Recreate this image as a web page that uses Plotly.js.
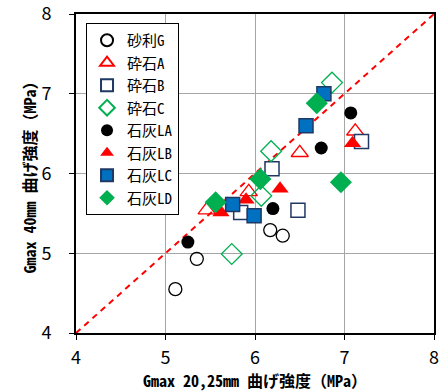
<!DOCTYPE html>
<html>
<head>
<meta charset="utf-8">
<script src="https://cdn.plot.ly/plotly-3.0.1.min.js"></script>
<style>
  html, body { margin: 0; padding: 0; background: #fff; }
  #chart { width: 440px; height: 392px; }
</style>
</head>
<body>
<div id="chart"></div>
<script>
// Flexural strength comparison: 20,25mm Gmax (x) vs 40mm Gmax (y), MPa
const seriesNames = ['砂利G', '砕石A', '砕石B', '砕石C', '石灰LA', '石灰LB', '石灰LC', '石灰LD'];

const gravelG_x = [5.11, 5.35, 6.17, 6.31];
const gravelG_y = [4.55, 4.93, 5.29, 5.22];

const crushedA_x = [5.46, 5.93, 6.50, 7.12];
const crushedA_y = [5.54, 5.77, 6.26, 6.53];

const crushedB_x = [5.84, 6.19, 6.48, 7.19];
const crushedB_y = [5.51, 6.06, 5.54, 6.40];

const crushedC_x = [5.74, 6.07, 6.18, 6.86];
const crushedC_y = [4.99, 5.72, 6.28, 7.14];

const limeLA_x = [5.25, 6.20, 6.74, 7.07];
const limeLA_y = [5.14, 5.56, 6.32, 6.76];

const limeLB_x = [5.62, 5.90, 6.28, 7.09];
const limeLB_y = [5.51, 5.67, 5.81, 6.38];

const limeLC_x = [5.75, 5.99, 6.57, 6.77];
const limeLC_y = [5.61, 5.47, 6.60, 7.00];

const limeLD_x = [5.56, 6.06, 6.69, 6.96];
const limeLD_y = [5.64, 5.93, 6.88, 5.89];

// 1:1 reference line
const equalLine = [4, 8];

const tickVals = [4, 5, 6, 7, 8];

const FONT = '"Noto Sans CJK JP", "DejaVu Sans", sans-serif';
const MONO = '"Noto Sans Mono CJK JP", "Noto Sans CJK JP", sans-serif';
const NARROW = '"Liberation Sans Narrow", "Noto Sans CJK JP", sans-serif';

function pts(name, xs, ys, marker) {
  return { type: 'scatter', mode: 'markers', name: name, x: xs, y: ys, marker: marker, cliponaxis: false };
}

const traces = [
  {
    type: 'scatter', mode: 'lines', x: equalLine, y: equalLine, showlegend: false,
    line: { color: '#FF0000', width: 2, dash: '6px,5px' }, hoverinfo: 'skip'
  },
  pts(seriesNames[0], gravelG_x, gravelG_y,
      { symbol: 'circle-open', size: 13, color: '#000000', line: { width: 1.3 } }),
  pts(seriesNames[1], crushedA_x, crushedA_y,
      { symbol: 'triangle-up-open', size: 15, color: '#FF0000', line: { width: 1.3 } }),
  pts(seriesNames[2], crushedB_x, crushedB_y,
      { symbol: 'square', size: 14, color: '#FFFFFF', line: { color: '#203864', width: 1.5 } }),
  pts(seriesNames[3], crushedC_x, crushedC_y,
      { symbol: 'diamond-open', size: 16, color: '#00B050', line: { width: 1.3 } }),
  pts(seriesNames[4], limeLA_x, limeLA_y,
      { symbol: 'circle', size: 13, color: '#000000', line: { width: 0 } }),
  pts(seriesNames[5], limeLB_x, limeLB_y,
      { symbol: 'triangle-up', size: 15, color: '#FF0000', line: { width: 0 } }),
  pts(seriesNames[6], limeLC_x, limeLC_y,
      { symbol: 'square', size: 14, color: '#0070C0', line: { color: '#203864', width: 1.5 } }),
  pts(seriesNames[7], limeLD_x, limeLD_y,
      { symbol: 'diamond', size: 17, color: '#00B050', line: { width: 0 } })
];

const axisCommon = {
  range: [4, 8],
  tickvals: tickVals,
  ticks: 'outside',
  ticklen: 5,
  tickcolor: '#000',
  tickwidth: 1,
  showline: true,
  linecolor: '#000',
  linewidth: 2,
  mirror: true,
  showgrid: true,
  gridcolor: '#A6A6A6',
  gridwidth: 1,
  zeroline: false,
  ticklabeloverflow: 'allow',
  tickfont: { family: NARROW, size: 18, color: '#000' },
  fixedrange: true
};

const layout = {
  width: 440,
  height: 392,
  margin: { l: 76, r: 6, t: 14, b: 59 },
  paper_bgcolor: '#FFFFFF',
  plot_bgcolor: '#FFFFFF',
  font: { family: FONT, color: '#000' },
  showlegend: true,
  legend: {
    x: 0.028, y: 0.972, xanchor: 'left', yanchor: 'top',
    bgcolor: '#FFFFFF', bordercolor: '#000000', borderwidth: 1,
    font: { family: MONO, size: 15, color: '#000' },
    itemsizing: 'constant',
    tracegroupgap: 0
  },
  xaxis: Object.assign({}, axisCommon, {
    ticklabelstandoff: 2,
    title: { text: 'Gmax 20,25mm 曲げ強度（MPa）', font: { family: MONO, size: 16, color: '#000', weight: 'bold' }, standoff: 6 }
  }),
  yaxis: Object.assign({}, axisCommon, {
    ticklabelstandoff: 14,
    title: { text: 'Gmax 40mm 曲げ強度（MPa）', font: { family: MONO, size: 16, color: '#000', weight: 'bold' }, standoff: 0 }
  })
};

Plotly.newPlot('chart', traces, layout, { displayModeBar: false, staticPlot: true });
</script>
</body>
</html>
